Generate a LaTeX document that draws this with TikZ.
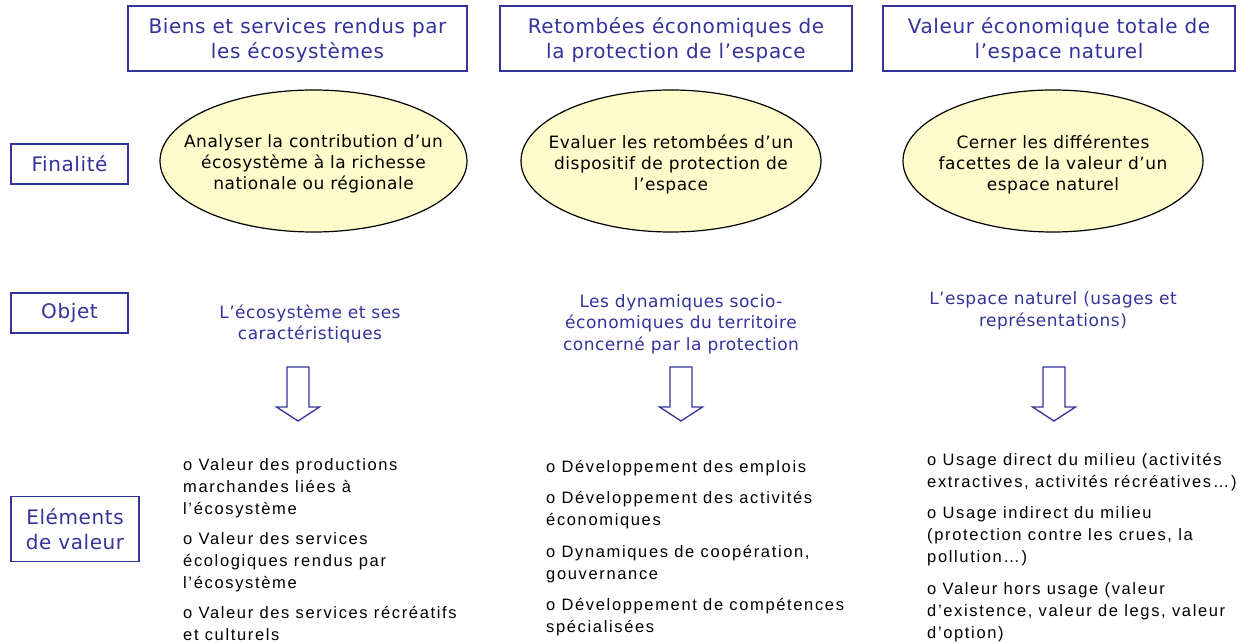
\documentclass[tikz,border=0pt]{standalone}
\usepackage{fontspec}
\setmainfont{DejaVu Sans}
\newfontfamily\bluefont{DejaVu Sans}[LetterSpace=3]
\newfontfamily\itemfont{Liberation Sans}[LetterSpace=10]
\usetikzlibrary{positioning,shapes.geometric}
\definecolor{myblue}{HTML}{333399}
\colorlet{myyellow}{yellow!20}
\tikzset{
	head/.style={
		rectangle, draw=myblue, line width=1.5pt,
		text=myblue, align=center, inner sep=0pt,
		text height=44pt, text depth=4pt,
		minimum height=65pt, minimum width=352pt,
		font=\bluefont\fontsize{20}{25}\selectfont,
	},
	rowlabel/.style={
		rectangle, draw=myblue, line width=1.5pt,
		text=myblue, align=center, inner sep=0pt,
		minimum height=40pt, minimum width=117pt,
		font=\bluefont\fontsize{20}{25}\selectfont,
	},
	goal/.style={
		ellipse, draw, line width=1.2pt, fill=myyellow,
		inner sep=0pt, minimum width=300pt, minimum height=142pt,
	},
	goaltext/.style={
		align=center, inner sep=0pt,
		font=\bluefont\fontsize{17}{21}\selectfont,
	},
	object/.style={
		text=myblue, align=center, inner sep=0pt,
		font=\bluefont\fontsize{17}{21.5}\selectfont,
	},
	itemlist/.style={
		anchor=north west, align=left, inner sep=0pt,
		font=\itemfont\fontsize{16.5}{22}\selectfont,
	},
	bigarrow/.style={draw=myblue, line width=1.3pt, fill=white, line join=miter}
}

\begin{document}
\begin{tikzpicture}[x=1pt, y=-1pt]
	\useasboundingbox (0,0) rectangle (1248,644);
	% Column headers
	\node [head, minimum width=339pt] (h1) at (297.5,38.5) {Biens et services rendus par\\ les écosystèmes};
	\node [head] (h2) at (676,38.5) {Retombées économiques de\\ la protection de l’espace};
	\node [head] (h3) at (1059,38.5) {Valeur économique totale de\\ l’espace naturel};
	% Row labels
	\node [rowlabel] (fin) at (69.5,164) {Finalité};
	\node [rowlabel] (obj) at (69.5,313) {Objet};
	\node [rowlabel, minimum width=128pt, minimum height=65pt] (elem) at (75,529) {Eléments\\ de valeur};
	% Finalité
	\node [goal, minimum width=307pt] (g1) at (313.5,161) {};
	\node [goal] (g2) at (671,161) {};
	\node [goal] (g3) at (1053,161) {};
	\node [goaltext] (g1t) at (313.5,164) {Analyser la contribution d’un\\ écosystème à la richesse\\ nationale ou régionale};
	\node [goaltext] (g2t) at (671,164) {Evaluer les retombées d’un\\ dispositif de protection de\\ l’espace};
	\node [goaltext] (g3t) at (1053,164) {Cerner les différentes\\ facettes de la valeur d’un\\ espace naturel};
	% Objet
	\node [object] (o1) at (310,324) {L’écosystème et ses\\ caractéristiques};
	\node [object] (o2) at (681,324) {Les dynamiques socio-\\ économiques du territoire\\ concerné par la protection};
	\node [object] (o3) at (1053,311) {L’espace naturel (usages et\\ représentations)};
	% Arrows
	\coordinate (a1) at (298,367);
	\coordinate (a2) at (681,367);
	\coordinate (a3) at (1054,367);
	\draw [bigarrow] (a1) +(-11,0) -- +(-11,40) -- +(-21.5,40) -- +(0,54) -- +(21.5,40) -- +(11,40) -- +(11,0) -- cycle;
	\draw [bigarrow] (a2) +(-11,0) -- +(-11,40) -- +(-21.5,40) -- +(0,54) -- +(21.5,40) -- +(11,40) -- +(11,0) -- cycle;
	\draw [bigarrow] (a3) +(-11,0) -- +(-11,40) -- +(-21.5,40) -- +(0,54) -- +(21.5,40) -- +(11,40) -- +(11,0) -- cycle;
	% Eléments de valeur
	\node [itemlist] (l1) at (183,458) {o Valeur des productions\\ marchandes liées à\\ l’écosystème\\[8pt]
		o Valeur des services\\ écologiques rendus par\\ l’écosystème\\[8pt]
		o Valeur des services récréatifs\\ et culturels};
	\node [itemlist] (l2) at (546,460) {o Développement des emplois\\[9.5pt]
		o Développement des activités\\ économiques\\[9.5pt]
		o Dynamiques de coopération,\\ gouvernance\\[9.5pt]
		o Développement de compétences\\ spécialisées};
	\node [itemlist] (l3) at (927,453) {o Usage direct du milieu (activités\\ extractives, activités récréatives…)\\[9.5pt]
		o Usage indirect du milieu\\ (protection contre les crues, la\\ pollution…)\\[9.5pt]
		o Valeur hors usage (valeur\\ d’existence, valeur de legs, valeur\\ d’option)};
\end{tikzpicture}
\end{document}
